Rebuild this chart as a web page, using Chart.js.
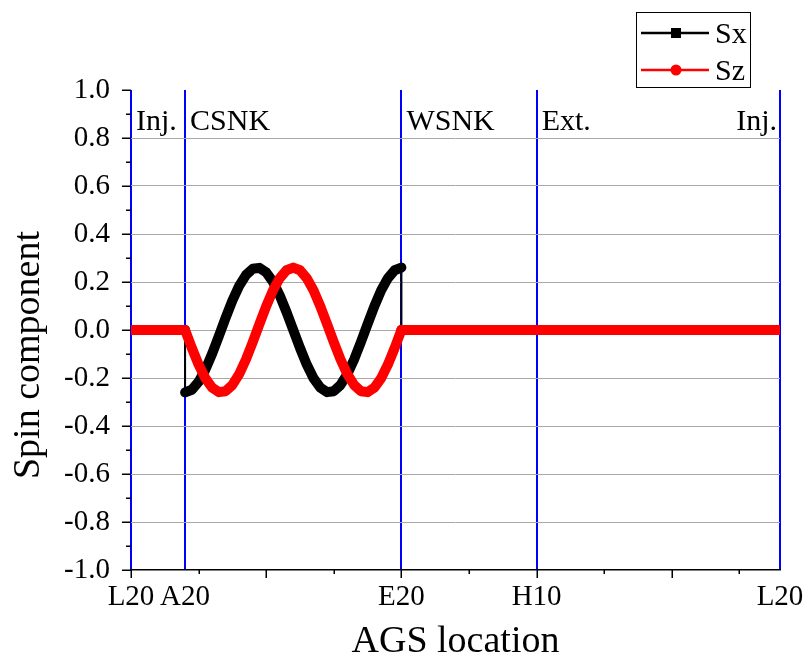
<!DOCTYPE html>
<html>
<head>
<meta charset="utf-8">
<script src="https://cdn.jsdelivr.net/npm/chart.js@4.4.0/dist/chart.umd.min.js"></script>
<style>
html,body{margin:0;padding:0;background:#fff;}
#wrap{width:808px;height:661px;position:relative;}
</style>
</head>
<body>
<div id="wrap"><canvas id="c" width="808" height="661"></canvas></div>
<script>
// ---------- data ----------
const xTickPos    = [0, 0.4, 2.0, 3.0, 4.8];
const xTickLabels = ['L20', 'A20', 'E20', 'H10', 'L20'];
const sectionNames = ['Inj.', 'CSNK', 'WSNK', 'Ext.', 'Inj.'];
const seriesNames = ['Sx', 'Sz'];
const xTitle = 'AGS location';
const yTitle = 'Spin component';

const sxX = [0, 0.40, 0.40, 0.45, 0.50, 0.55, 0.60, 0.65, 0.70, 0.75, 0.80, 0.85, 0.90, 0.95, 1.00,
             1.05, 1.10, 1.15, 1.20, 1.25, 1.30, 1.35, 1.40, 1.45, 1.50, 1.55, 1.60, 1.65, 1.70,
             1.75, 1.80, 1.85, 1.90, 1.95, 2.00, 2.00, 4.80];
const sxY = [0, 0, -0.260, -0.249, -0.216, -0.165, -0.099, -0.025, 0.051, 0.123, 0.184, 0.229, 0.255,
             0.259, 0.240, 0.201, 0.144, 0.075, 0.000, -0.075, -0.144, -0.201, -0.240, -0.259, -0.255,
             -0.229, -0.184, -0.123, -0.051, 0.025, 0.099, 0.165, 0.216, 0.249, 0.260, 0, 0];

const szX = [0, 0.40, 0.45, 0.50, 0.55, 0.60, 0.65, 0.70, 0.75, 0.80, 0.85, 0.90, 0.95, 1.00,
             1.05, 1.10, 1.15, 1.20, 1.25, 1.30, 1.35, 1.40, 1.45, 1.50, 1.55, 1.60, 1.65, 1.70,
             1.75, 1.80, 1.85, 1.90, 1.95, 2.00, 4.80];
const szY = [0, 0, -0.075, -0.144, -0.201, -0.240, -0.259, -0.255, -0.229, -0.184, -0.123, -0.051,
             0.025, 0.099, 0.165, 0.216, 0.249, 0.260, 0.249, 0.216, 0.165, 0.099, 0.025, -0.051,
             -0.123, -0.184, -0.229, -0.255, -0.259, -0.240, -0.201, -0.144, -0.075, 0, 0];

// ---------- styling ----------
const FONT = "'Liberation Serif', 'Times New Roman', serif";
Chart.defaults.font.family = FONT;
Chart.defaults.color = '#000';

const toPts = (xs, ys) => xs.map((v, i) => ({x: v, y: ys[i]}));
const segWidth = ctx => (Math.abs(ctx.p0.parsed.x - ctx.p1.parsed.x) < 1e-9 ? 2 : 10);

const decor = {
  id: 'decor',
  afterDraw(chart) {
    const {ctx, scales: {x, y}} = chart;
    ctx.save();
    // tick marks
    ctx.strokeStyle = '#000';
    ctx.lineWidth = 1.5;
    const by = y.getPixelForValue(-1);
    for (let k = 0; k <= 9; k++) {
      const px = Math.round(x.getPixelForValue(k * 0.5)) + 0.25;
      const len = (k % 2 === 0) ? 8 : 4;
      ctx.beginPath(); ctx.moveTo(px, by); ctx.lineTo(px, by + len); ctx.stroke();
    }
    const lx = x.getPixelForValue(0);
    for (let k = -10; k <= 10; k++) {
      const py = Math.round(y.getPixelForValue(k / 10)) + 0.25;
      const len = (k % 2 === 0) ? 9 : 5;
      ctx.beginPath(); ctx.moveTo(lx - len, py); ctx.lineTo(lx, py); ctx.stroke();
    }
    // section labels
    ctx.fillStyle = '#000';
    ctx.font = '30px ' + FONT;
    ctx.textBaseline = 'alphabetic';
    const ty = 130;
    sectionNames.forEach((s, i) => {
      const px = x.getPixelForValue(xTickPos[i]);
      if (i === sectionNames.length - 1) { ctx.textAlign = 'right'; ctx.fillText(s, px - 3, ty); }
      else { ctx.textAlign = 'left'; ctx.fillText(s, px + 5, ty); }
    });
    // y title
    ctx.save();
    ctx.translate(29, 355);
    ctx.rotate(-Math.PI / 2);
    ctx.font = '38px ' + FONT;
    ctx.textAlign = 'center';
    ctx.textBaseline = 'middle';
    ctx.fillText(yTitle, 0, 0);
    ctx.restore();
    // legend
    ctx.strokeStyle = '#000';
    ctx.lineWidth = 1;
    ctx.strokeRect(636.5, 12.5, 114, 75);
    const rows = [33, 70];
    chart.data.datasets.forEach((ds, i) => {
      const ry = rows[i];
      ctx.strokeStyle = ds.borderColor;
      ctx.lineWidth = 2.5;
      ctx.beginPath(); ctx.moveTo(641, ry); ctx.lineTo(709, ry); ctx.stroke();
      ctx.fillStyle = ds.borderColor;
      if (ds.pointStyle === 'rect') {
        ctx.fillRect(671, ry - 5, 10, 10);
      } else {
        ctx.beginPath(); ctx.arc(676, ry, 5.5, 0, Math.PI * 2); ctx.fill();
      }
      ctx.fillStyle = '#000';
      ctx.font = '30px ' + FONT;
      ctx.textAlign = 'left';
      ctx.textBaseline = 'alphabetic';
      ctx.fillText(ds.label, 715, ry + 10);
    });
    ctx.restore();
  }
};

new Chart(document.getElementById('c'), {
  type: 'line',
  data: {
    datasets: [
      {
        label: seriesNames[0],
        data: toPts(sxX, sxY),
        borderColor: '#000000',
        backgroundColor: '#000000',
        pointStyle: 'rect',
        pointRadius: 0,
        borderWidth: 10,
        borderCapStyle: 'round',
        borderJoinStyle: 'round',
        tension: 0,
        order: 1,
        segment: {borderWidth: segWidth}
      },
      {
        label: seriesNames[1],
        data: toPts(szX, szY),
        borderColor: '#ff0000',
        backgroundColor: '#ff0000',
        pointStyle: 'circle',
        pointRadius: 0,
        borderWidth: 10,
        borderCapStyle: 'round',
        borderJoinStyle: 'round',
        tension: 0,
        order: 0,
        segment: {borderWidth: segWidth}
      }
    ]
  },
  options: {
    responsive: false,
    animation: false,
    devicePixelRatio: 1,
    layout: {padding: {left: 0, right: 28, top: 90, bottom: 0}},
    plugins: {legend: {display: false}, tooltip: {enabled: false}},
    scales: {
      x: {
        type: 'linear',
        min: 0, max: 4.8,
        z: 1,
        afterBuildTicks: s => { s.ticks = xTickPos.map(v => ({value: v})); },
        afterFit: s => { s.height = 91; s.paddingLeft = 0; s.paddingRight = 0; },
        ticks: {
          autoSkip: false, maxRotation: 0, padding: 10,
          font: {size: 29, family: FONT},
          callback: (v, i) => xTickLabels[i]
        },
        grid: {color: '#0000ff', lineWidth: 2, drawTicks: false},
        border: {display: true, color: '#000', width: 1.5},
        title: {display: true, text: xTitle, font: {size: 38, family: FONT, lineHeight: 1}, padding: {top: 0, bottom: 0}}
      },
      y: {
        type: 'linear',
        min: -1, max: 1,
        afterFit: s => { s.width = 131; s.paddingTop = 0; s.paddingBottom = 0; },
        ticks: {
          stepSize: 0.2, padding: 21,
          font: {size: 29, family: FONT},
          callback: v => (Math.abs(v) < 1e-9 ? '0.0' : v.toFixed(1))
        },
        grid: {
          drawTicks: false,
          lineWidth: 1,
          color: c => (Math.abs(Math.abs(c.tick.value) - 1) < 1e-6 ? 'rgba(0,0,0,0)' : '#a8a8a8')
        },
        border: {display: false}
      }
    }
  },
  plugins: [decor]
});
</script>
</body>
</html>
